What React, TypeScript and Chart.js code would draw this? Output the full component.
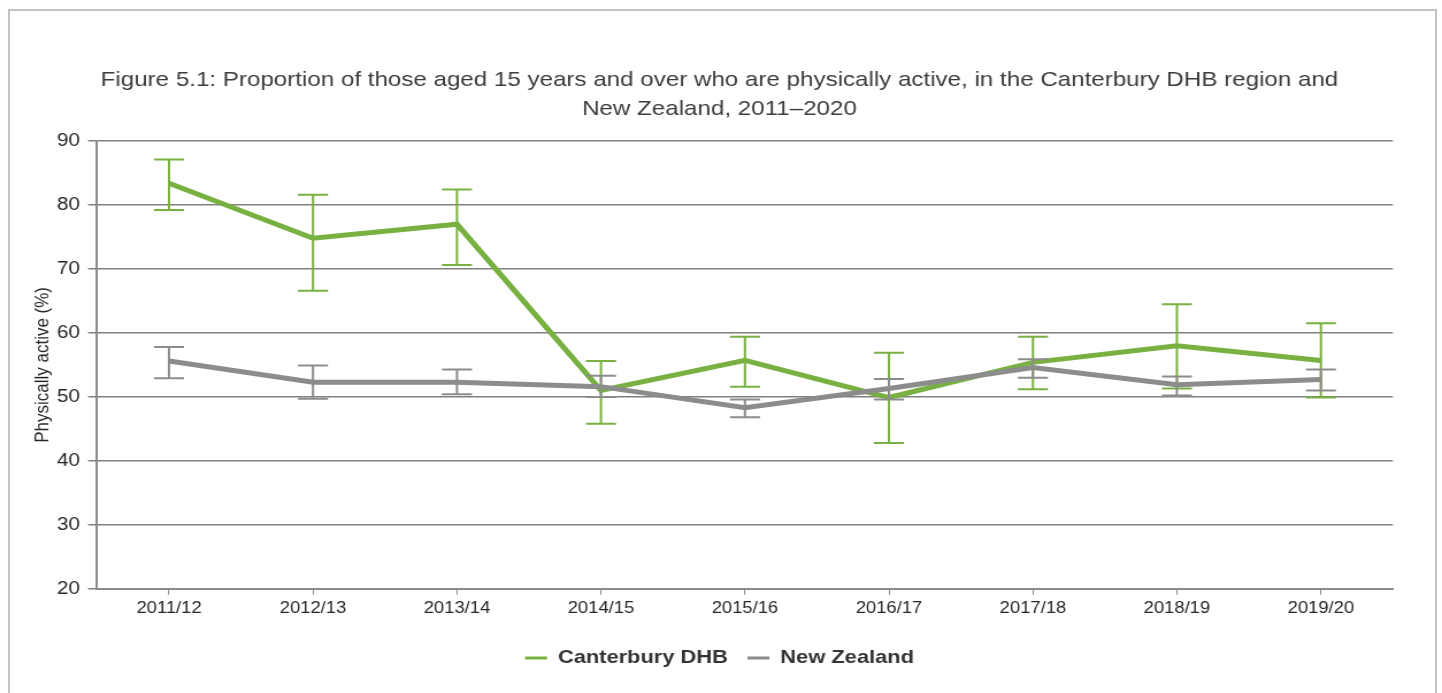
import React, { useEffect, useRef } from "react";
import { Chart, registerables } from "chart.js";

Chart.register(...registerables);

const categories = ["2011/12", "2012/13", "2013/14", "2014/15", "2015/16", "2016/17", "2017/18", "2018/19", "2019/20"];
const canterbury = [83.4, 74.8, 77.0, 51.0, 55.7, 49.9, 55.4, 58.0, 55.7];
const canterburyLow = [79.2, 66.6, 70.6, 45.8, 51.6, 42.8, 51.2, 51.3, 49.9];
const canterburyHigh = [87.1, 81.6, 82.4, 55.6, 59.4, 56.9, 59.4, 64.5, 61.5];
const newZealand = [55.6, 52.3, 52.3, 51.6, 48.3, 51.3, 54.6, 51.9, 52.7];
const newZealandLow = [52.9, 49.7, 50.4, 50.0, 46.8, 49.6, 53.0, 50.2, 51.0];
const newZealandHigh = [57.8, 54.9, 54.3, 53.3, 49.6, 52.8, 55.9, 53.2, 54.3];
const yTicks = [20, 30, 40, 50, 60, 70, 80, 90];

const titleLines = [
  "Figure 5.1: Proportion of those aged 15 years and over who are physically active, in the Canterbury DHB region and",
  "New Zealand, 2011\u20132020",
];

const GREEN = "#78b142";
const GRAY = "#8c8c8c";
const FONT = "'Liberation Sans', Arial, sans-serif";

// The reference is horizontally stretched; the canvas is drawn narrower and displayed at full width.
const VIEW_W = 1442;
const VIEW_H = 693;
const STRETCH = 1.15;
const CANVAS_W = Math.round(VIEW_W / STRETCH);
const sx = (v: number) => v / STRETCH;

const errorBarPlugin = {
  id: "errorBars",
  afterDatasetsDraw(chart: any) {
    const { ctx } = chart;
    const xs = chart.scales.x;
    const ys = chart.scales.y;
    const sets = [
      { low: canterburyLow, high: canterburyHigh, color: GREEN },
      { low: newZealandLow, high: newZealandHigh, color: GRAY },
    ];
    const cap = sx(15);
    ctx.save();
    sets.forEach((s) => {
      ctx.strokeStyle = s.color;
      ctx.lineWidth = 2;
      categories.forEach((_, i) => {
        const x = xs.getPixelForValue(i);
        const yl = ys.getPixelForValue(s.low[i]);
        const yh = ys.getPixelForValue(s.high[i]);
        ctx.beginPath();
        ctx.moveTo(x, yh);
        ctx.lineTo(x, yl);
        ctx.moveTo(x - cap, yh);
        ctx.lineTo(x + cap, yh);
        ctx.moveTo(x - cap, yl);
        ctx.lineTo(x + cap, yl);
        ctx.stroke();
      });
    });
    ctx.restore();
  },
};

export default function App() {
  const ref = useRef<HTMLCanvasElement | null>(null);
  useEffect(() => {
    if (!ref.current) return;
    const padLeft = 40;
    const axisLeft = sx(97);
    const chart = new Chart(ref.current, {
      type: "line",
      data: {
        labels: categories,
        datasets: [
          {
            label: "Canterbury DHB",
            data: canterbury,
            borderColor: GREEN,
            backgroundColor: GREEN,
            borderWidth: 5,
            pointRadius: 0,
            tension: 0,
            order: 1,
          },
          {
            label: "New Zealand",
            data: newZealand,
            borderColor: GRAY,
            backgroundColor: GRAY,
            borderWidth: 5,
            pointRadius: 0,
            tension: 0,
            order: 0,
          },
        ],
      },
      options: {
        animation: false,
        responsive: false,
        maintainAspectRatio: false,
        devicePixelRatio: 1,
        layout: { padding: { left: padLeft, right: CANVAS_W - sx(1393), top: 0, bottom: 15.6 } },
        plugins: {
          tooltip: { enabled: false },
          title: {
            display: true,
            text: titleLines,
            color: "#3c3c3c",
            font: { family: FONT, size: 21, weight: "normal", lineHeight: 1.4 },
            padding: { top: 65.5, bottom: 16.7 },
          },
          legend: {
            position: "bottom",
            labels: {
              usePointStyle: true,
              pointStyle: "line",
              pointStyleWidth: sx(22),
              boxHeight: 19,
              color: "#333333",
              font: { family: FONT, size: 19, weight: "bold" },
              padding: 17,
              sort: (a: any, b: any) => a.datasetIndex - b.datasetIndex,
              generateLabels: (c: any) =>
                (Chart as any).defaults.plugins.legend.labels
                  .generateLabels(c)
                  .map((l: any) => ({ ...l, lineWidth: 3 })),
            },
          },
        },
        scales: {
          x: {
            type: "category",
            offset: true,
            afterFit: (s: any) => {
              s.height = 42.6;
            },
            grid: { drawOnChartArea: false, drawTicks: true, tickLength: 6, color: GRAY, offset: false },
            border: { display: true, color: GRAY, width: 2 },
            ticks: { color: "#262626", font: { family: FONT, size: 16 }, padding: 4.4, maxRotation: 0, autoSkip: false },
          },
          y: {
            min: 20,
            max: 90,
            afterBuildTicks: (s: any) => {
              s.ticks = yTicks.map((v) => ({ value: v }));
            },
            afterFit: (s: any) => {
              s.width = axisLeft - padLeft;
            },
            grid: { color: "#808080", lineWidth: 1.5, tickLength: sx(9), drawTicks: true },
            border: { display: true, color: GRAY, width: 2 },
            ticks: { color: "#262626", font: { family: FONT, size: 18 }, padding: sx(8) },
            title: {
              display: true,
              text: "Physically active (%)",
              color: "#262626",
              font: { family: FONT, size: 17, lineHeight: 1.2 },
              padding: { top: sx(43) - padLeft - 10.2, bottom: 0 },
            },
          },
        },
      },
      plugins: [errorBarPlugin],
    });
    return () => chart.destroy();
  }, []);

  return (
    <div style={{ position: "fixed", left: 0, top: 0, width: VIEW_W, height: VIEW_H, background: "#fff", overflow: "hidden" }}>
      <div
        style={{
          position: "absolute",
          left: 8,
          top: 9,
          width: 1429,
          height: 720,
          border: "2px solid #c3c3c3",
          boxSizing: "border-box",
        }}
      />
      <canvas
        ref={ref}
        width={CANVAS_W}
        height={VIEW_H}
        style={{ position: "absolute", left: 0, top: 0, width: VIEW_W, height: VIEW_H }}
      />
    </div>
  );
}
